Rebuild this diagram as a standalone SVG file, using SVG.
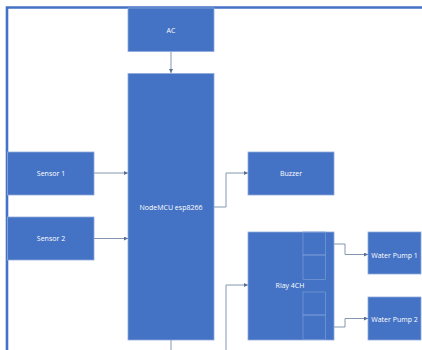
<svg xmlns="http://www.w3.org/2000/svg" width="422" height="350" viewBox="0 0 422 350">
<style>
.box{fill:#4472C4;stroke:#8FAADC;stroke-width:0.8}
.sub{fill:none;stroke:#7B9BD6;stroke-width:0.7}
.lbl{font-family:"Open Sans","Liberation Sans",sans-serif;font-size:7px;fill:#ffffff;text-anchor:middle;dominant-baseline:central}
.con{fill:none;stroke:#8497B0;stroke-width:1}
</style>
<defs>
<marker id="ah" viewBox="0 0 6 6" refX="6" refY="3" markerWidth="4" markerHeight="4" orient="auto" markerUnits="userSpaceOnUse">
<path d="M0,0 L6,3 L0,6 z" fill="#5A6F95"/>
</marker>
</defs>
<rect width="422" height="350" fill="#ffffff"/>
<path d="M7,350 V7.5 H422" fill="none" stroke="#4472C4" stroke-width="2.6"/>
<g id="connectors">
<path class="con" d="M171,51.5 V73" marker-end="url(#ah)"/>
<path class="con" d="M94,173 H128" marker-end="url(#ah)"/>
<path class="con" d="M94,238.5 H128" marker-end="url(#ah)"/>
<path class="con" d="M214,207 H226 V173 H248" marker-end="url(#ah)"/>
<path class="con" d="M171,340 V352 H226 V285 H248" marker-end="url(#ah)"/>
<path class="con" d="M334,244 H345 V254.5 H368" marker-end="url(#ah)"/>
<path class="con" d="M334,327 H345 V318.5 H368" marker-end="url(#ah)"/>
</g>
<g id="ac">
<rect class="box" x="128" y="8" width="86" height="43.5"/>
<text class="lbl" x="171" y="30">AC</text>
</g>
<g id="nodemcu">
<rect class="box" x="128" y="73.5" width="86" height="266.5"/>
<text class="lbl" x="171" y="207">NodeMCU esp8266</text>
</g>
<g id="sensor1">
<rect class="box" x="7.5" y="152" width="86.5" height="43"/>
<text class="lbl" x="51" y="173">Sensor 1</text>
</g>
<g id="sensor2">
<rect class="box" x="7.5" y="217" width="86.5" height="43"/>
<text class="lbl" x="51" y="238.5">Sensor 2</text>
</g>
<g id="buzzer">
<rect class="box" x="248" y="152" width="86" height="43"/>
<text class="lbl" x="291" y="173">Buzzer</text>
</g>
<g id="relay">
<rect class="box" x="248" y="232" width="86" height="108"/>
<rect class="sub" x="303" y="232" width="22.5" height="23"/>
<rect class="sub" x="303" y="255" width="22.5" height="24.5"/>
<rect class="sub" x="303" y="292" width="22.5" height="23"/>
<rect class="sub" x="303" y="315" width="22.5" height="24.5"/>
<text class="lbl" x="290" y="285">Rlay 4CH</text>
</g>
<g id="pump1">
<rect class="box" x="368" y="232" width="53" height="42"/>
<text class="lbl" x="394.5" y="255">Water Pump 1</text>
</g>
<g id="pump2">
<rect class="box" x="368" y="297" width="53" height="43"/>
<text class="lbl" x="394.5" y="319">Water Pump 2</text>
</g>
</svg>
